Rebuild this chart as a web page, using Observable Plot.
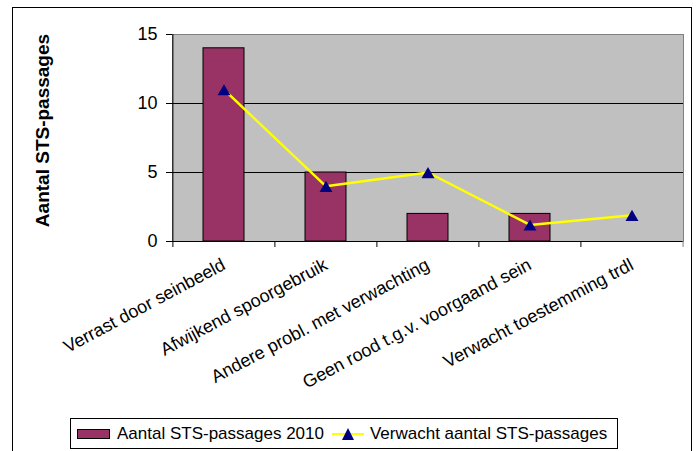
<!DOCTYPE html>
<html>
<head>
<meta charset="utf-8">
<script src="https://cdn.jsdelivr.net/npm/d3@7"></script>
<script src="https://cdn.jsdelivr.net/npm/@observablehq/plot@0.6"></script>
<style>
  html, body { margin: 0; padding: 0; background: #fff; }
  body { width: 699px; height: 451px; overflow: hidden; position: relative; font-family: "Liberation Sans", Arial, sans-serif; }
  #frame { position: absolute; left: 12px; top: 7px; width: 680px; height: 470px; border: 1px solid #000; box-sizing: border-box; }
  #chart { position: absolute; left: 0; top: 0; }
  #chart svg { overflow: visible; }
  #legend { position: absolute; left: 70px; top: 418px; width: 548px; height: 31px; border: 1px solid #000; box-sizing: border-box; background: #fff;
            display: flex; align-items: center; font-size: 17px; color: #000; white-space: nowrap; }
  .sw { display: inline-block; width: 33px; height: 10px; background: #993366; border: 1px solid #000; box-sizing: border-box; margin-left: 6px; margin-right: 7px; }
  .ln { display: inline-block; position: relative; width: 32px; height: 16px; margin-left: 8px; margin-right: 6px; }
  .ln::before { content: ""; position: absolute; left: 0; right: 0; top: 7px; height: 2px; background: #ffff00; }
  .ln::after { content: ""; position: absolute; left: 10px; top: 2px; width: 0; height: 0;
               border-left: 6.5px solid transparent; border-right: 6.5px solid transparent; border-bottom: 12px solid #000080; }
</style>
</head>
<body>
<div id="frame"></div>
<div id="chart"></div>
<div id="legend"></div>
<script>
// ---- data ----
const categories = [
  "Verrast door seinbeeld",
  "Afwijkend spoorgebruik",
  "Andere probl. met verwachting",
  "Geen rood t.g.v. voorgaand sein",
  "Verwacht toestemming trdl"
];
const actual2010 = [14, 5, 2, 2, 0];
const expected = [11, 4, 5, 1.2, 1.9];
const yTicks = [0, 5, 10, 15];
const seriesNames = ["Aantal STS-passages 2010", "Verwacht aantal STS-passages"];
const yLabel = "Aantal STS-passages";

const data = categories.map((c, i) => ({cat: c, v: actual2010[i], e: expected[i]}));

const W = 699, H = 410, ML = 172, MR = 16, MT = 34, MB = 169;
const step = (W - ML - MR) / categories.length;
const font = "'Liberation Sans', Arial, sans-serif";

const plot = Plot.plot({
  width: W, height: H,
  marginLeft: ML, marginRight: MR, marginTop: MT, marginBottom: MB,
  style: {fontFamily: font, color: "#000", background: "transparent", overflow: "visible"},
  x: {type: "band", domain: categories, paddingInner: 0.6, paddingOuter: 0.3},
  y: {domain: [0, 15]},
  marks: [
    Plot.frame({fill: "#c0c0c0", stroke: "#808080"}),
    Plot.ruleY([5, 10], {stroke: "#000", strokeWidth: 1}),
    Plot.barY(data, {x: "cat", y: "v", fill: "#993366", stroke: "#000", strokeWidth: 1}),
    Plot.ruleY([0], {stroke: "#000"}),
    Plot.ruleX([categories[0]], {x: d => d, dx: -step / 2, y1: 0, y2: 15, stroke: "#000"}),
    Plot.ruleX(categories, {x: d => d, dx: -step / 2, y1: 0, y2: 0, insetBottom: -6, stroke: "#000"}),
    Plot.ruleX([categories[categories.length - 1]], {x: d => d, dx: step / 2, y1: 0, y2: 0, insetBottom: -6, stroke: "#808080"}),
    Plot.line(data, {x: "cat", y: "e", stroke: "#ffff00", strokeWidth: 2.5}),
    Plot.dot(data, {x: "cat", y: "e", symbol: "triangle", r: 4.8, fill: "#000080", stroke: null, dy: 1.9}),
    Plot.axisY({ticks: yTicks, tickSize: 6, tickPadding: 9, fontSize: 18, label: null}),
    Plot.axisX({tickSize: 0, tickRotate: -28, tickPadding: 22, fontSize: 18, label: null}),
    Plot.text([yLabel], {text: d => d, frameAnchor: "left", textAnchor: "middle", rotate: -90, dx: -130, dy: -7.5, fontWeight: "bold", fontSize: 19})
  ]
});
document.getElementById("chart").appendChild(plot);

const legend = document.getElementById("legend");
legend.innerHTML = `<span class="sw"></span><span>${seriesNames[0]}</span><span class="ln"></span><span>${seriesNames[1]}</span>`;
</script>
</body>
</html>
